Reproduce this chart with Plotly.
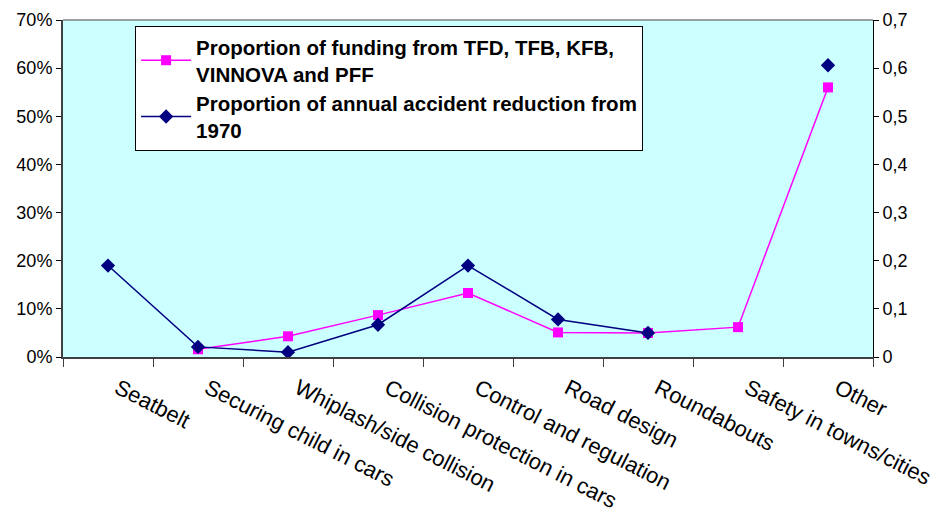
import plotly.graph_objects as go

categories = ['Seatbelt', 'Securing child in cars', 'Whiplash/side collision',
              'Collision protection in cars', 'Control and regulation',
              'Road design', 'Roundabouts', 'Safety in towns/cities', 'Other']
# percent of funding (left axis)
funding_pct = [None, 1.6, 4.3, 8.7, 13.3, 5.1, 5.0, 6.2, 56.0]
# share of annual accident reduction (right axis)
accident_share = [0.19, 0.021, 0.01, 0.067, 0.19, 0.078, 0.05, None, 0.606]

left_ticks = [0, 10, 20, 30, 40, 50, 60, 70]
left_labels = ['0%', '10%', '20%', '30%', '40%', '50%', '60%', '70%']
right_ticks = [0, 0.1, 0.2, 0.3, 0.4, 0.5, 0.6, 0.7]
right_labels = ['0', '0,1', '0,2', '0,3', '0,4', '0,5', '0,6', '0,7']

fig = go.Figure()
fig.add_trace(go.Scatter(
    x=categories, y=funding_pct, yaxis='y',
    mode='lines+markers',
    name='Proportion of funding from TFD, TFB, KFB,<br>VINNOVA and PFF',
    line=dict(color='#FF00FF', width=1.5),
    marker=dict(symbol='square', size=10, color='#FF00FF')))
fig.add_trace(go.Scatter(
    x=categories, y=accident_share, yaxis='y2',
    mode='lines+markers',
    name='Proportion of annual accident reduction from<br>1970',
    line=dict(color='#000080', width=1.5),
    marker=dict(symbol='diamond', size=11, color='#000080')))

fig.update_layout(
    width=938, height=516,
    margin=dict(l=55, r=73, t=12, b=167),
    paper_bgcolor='white',
    plot_bgcolor='#CCFFFF',
    font=dict(family='Liberation Sans, Arial', size=18, color='black'),
    xaxis=dict(
        type='category', tickson='boundaries',
        showline=True, linecolor='#404040', linewidth=2,
        ticks='outside', ticklen=8, tickcolor='#404040',
        tickangle=27, tickfont=dict(size=22),
        ticklabelshift=10, ticklabelstandoff=8,
        showgrid=False, zeroline=False, automargin=False,
        range=[-0.5, 8.5]),
    yaxis=dict(
        range=[0, 70], tickvals=left_ticks, ticktext=left_labels,
        showline=True, linecolor='#404040', linewidth=2,
        ticks='outside', ticklen=5, tickcolor='black',
        showgrid=False, zeroline=False, automargin=False),
    yaxis2=dict(
        range=[0, 0.7], tickvals=right_ticks, ticktext=right_labels,
        overlaying='y', side='right',
        showline=True, linecolor='black', linewidth=1,
        ticks='outside', ticklen=5, tickcolor='black',
        showgrid=False, zeroline=False, automargin=False),
    legend=dict(
        x=0.089, y=0.982, xanchor='left', yanchor='top',
        bgcolor='white', bordercolor='black', borderwidth=1,
        font=dict(size=20.5, weight='bold'),
        itemwidth=50, tracegroupgap=0),
    showlegend=True,
)
# thin grey frame line along the top of the plot area
fig.add_shape(type='line', xref='paper', yref='paper',
              x0=0, x1=1, y0=1, y1=1,
              line=dict(color='#808080', width=1.5))

fig.write_html('out.html')
